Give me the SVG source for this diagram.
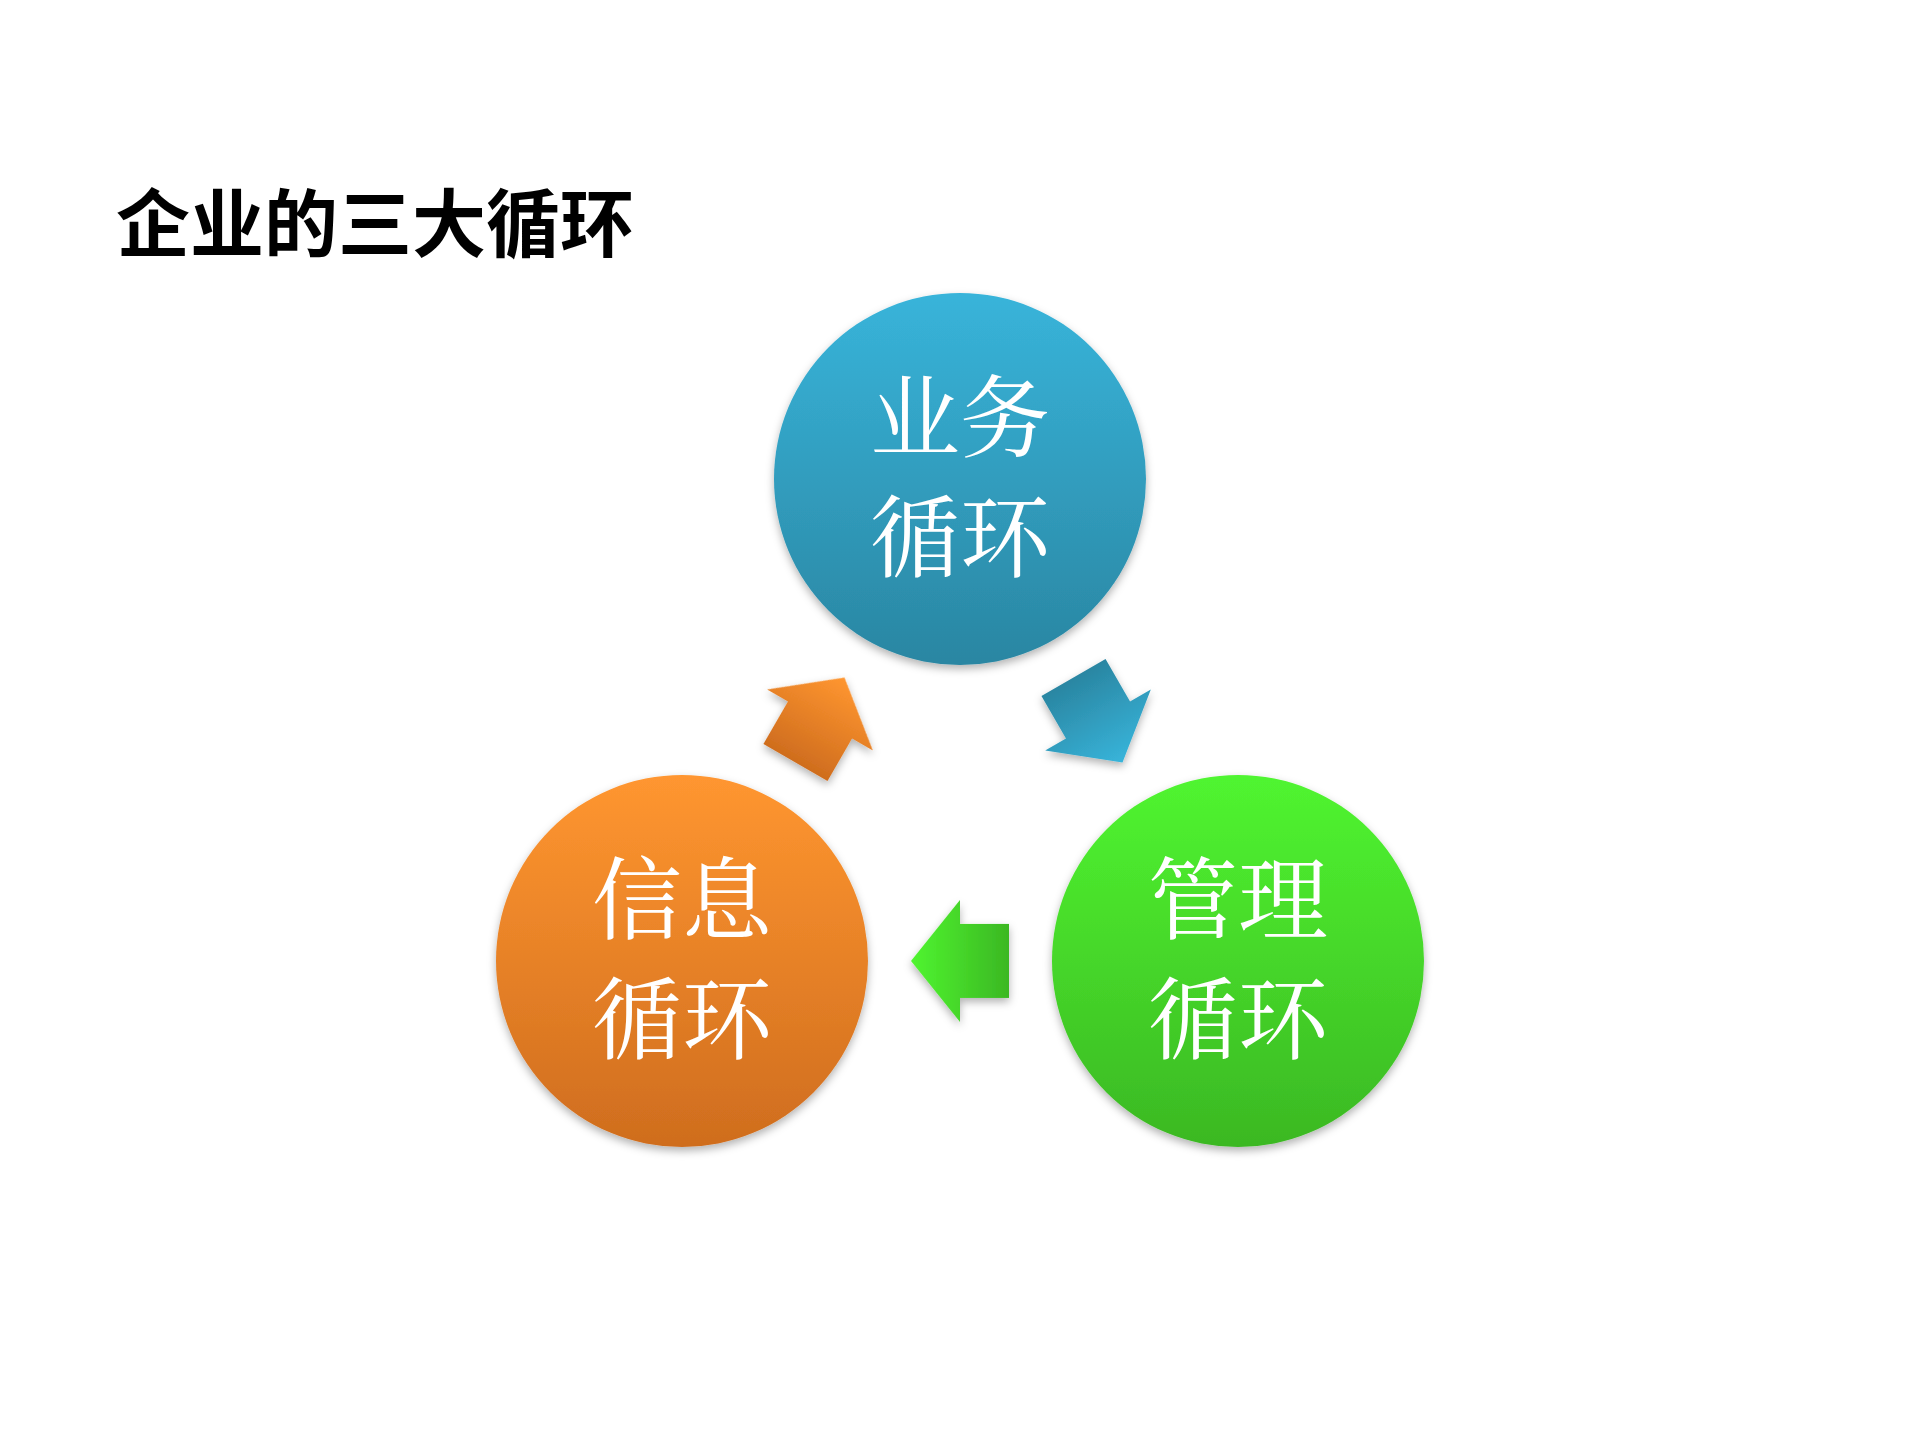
<svg xmlns="http://www.w3.org/2000/svg" width="1920" height="1440" viewBox="0 0 1920 1440">
<defs>
<linearGradient id="gb" x1="0" y1="0" x2="0" y2="1"><stop offset="0" stop-color="#38b4da"/><stop offset="1" stop-color="#2a86a2"/></linearGradient>
<linearGradient id="go" x1="0" y1="0" x2="0" y2="1"><stop offset="0" stop-color="#ff9630"/><stop offset="1" stop-color="#cf6d1e"/></linearGradient>
<linearGradient id="gg" x1="0" y1="0" x2="0" y2="1"><stop offset="0" stop-color="#50f530"/><stop offset="1" stop-color="#3bb823"/></linearGradient>
<linearGradient id="ab" x1="1" y1="0" x2="0" y2="0"><stop offset="0" stop-color="#38b4da"/><stop offset="1" stop-color="#2a86a2"/></linearGradient>
<linearGradient id="ao" x1="1" y1="0" x2="0" y2="0"><stop offset="0" stop-color="#ff9630"/><stop offset="1" stop-color="#cf6d1e"/></linearGradient>
<linearGradient id="ag" x1="1" y1="0" x2="0" y2="0"><stop offset="0" stop-color="#50f530"/><stop offset="1" stop-color="#3bb823"/></linearGradient>
<filter id="sh" x="-20%" y="-20%" width="140%" height="140%"><feDropShadow dx="0" dy="4" stdDeviation="4" flood-color="#000" flood-opacity="0.3"/></filter>
<path id="arr" d="M49,0 L0,-61 L0,-37 L-49,-37 L-49,37 L0,37 L0,61 Z"/>
</defs>
<style>
.t{font-family:"Noto Serif CJK SC","Liberation Serif","Noto Sans CJK SC",serif;font-size:90px;fill:#fff;text-anchor:middle}
.title{font-family:"Noto Sans CJK SC","Liberation Sans",sans-serif;font-size:74px;font-weight:bold;fill:#000}
</style>
<rect width="1920" height="1440" fill="#fff"/>
<text class="title" x="116" y="251">企业的三大循环</text>
<g id="connectors" filter="url(#sh)">
<use href="#arr" fill="url(#ab)" transform="translate(1098,720) rotate(60)"/>
<use href="#arr" fill="url(#ag)" transform="translate(960,961) rotate(180)"/>
<use href="#arr" fill="url(#ao)" transform="translate(820,720) rotate(-60)"/>
</g>
<g id="business"><circle cx="960" cy="479" r="186" fill="url(#gb)" filter="url(#sh)"/><text class="t" x="960" y="450">业务</text><text class="t" x="960" y="570">循环</text></g>
<g id="info"><circle cx="682" cy="961" r="186" fill="url(#go)" filter="url(#sh)"/><text class="t" x="682" y="932">信息</text><text class="t" x="682" y="1052">循环</text></g>
<g id="management"><circle cx="1238" cy="961" r="186" fill="url(#gg)" filter="url(#sh)"/><text class="t" x="1238" y="932">管理</text><text class="t" x="1238" y="1052">循环</text></g>
</svg>
